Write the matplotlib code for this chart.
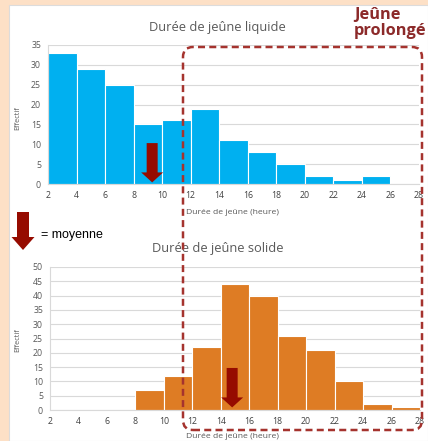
#!/usr/bin/env python3
"""Histogrammes de durée de jeûne liquide / solide avec zone de jeûne prolongé."""

import matplotlib

matplotlib.use("Agg")

import matplotlib.pyplot as plt
import numpy as np
from matplotlib.patches import FancyBboxPatch, Polygon, Rectangle
from matplotlib.transforms import IdentityTransform

# bornes des classes (heures) et effectifs
BIN_EDGES = [2, 4, 6, 8, 10, 12, 14, 16, 18, 20, 22, 24, 26, 28]
LIQUIDE_COUNTS = [33, 29, 25, 15, 16, 19, 11, 8, 5, 2, 1, 2, 0]
SOLIDE_COUNTS = [0, 0, 0, 7, 12, 22, 44, 40, 26, 21, 10, 2, 1]
LIQUIDE_MEAN = 9.3
SOLIDE_MEAN = 14.8

W, H = 428, 441
BLUE = "#00b0f0"
ORANGE = "#de7c24"
ARROW_RED = "#960b00"
DASH_RED = "#a5332e"
GRID = "#d9d9d9"
FONT = "Open Sans"


def fx(px):
    return px / W


def fy(py):
    return 1 - py / H


def arrow(fig, x, y_top, y_tip, shaft_w=11, head_w=22, head_len=10):
    # coordonnées en pixels écran (origine en bas à gauche)
    pts = [
        (x - shaft_w / 2, y_top),
        (x + shaft_w / 2, y_top),
        (x + shaft_w / 2, y_tip + head_len),
        (x + head_w / 2, y_tip + head_len),
        (x, y_tip),
        (x - head_w / 2, y_tip + head_len),
        (x - shaft_w / 2, y_tip + head_len),
    ]
    fig.patches.append(Polygon(pts, closed=True, facecolor=ARROW_RED, edgecolor="none",
                               transform=IdentityTransform(), zorder=5))


def draw_hist(ax, counts, color, ymax):
    edges = np.array(BIN_EDGES)
    ax.bar(edges[:-1], counts, width=2, align="edge", color=color,
           edgecolor="white", linewidth=0.8, zorder=2)
    ax.set_xlim(BIN_EDGES[0], BIN_EDGES[-1])
    ax.set_ylim(0, ymax)
    ax.set_xticks(BIN_EDGES)
    ax.set_yticks(np.arange(0, ymax + 1, 5))
    ax.tick_params(axis="x", length=0, labelsize=6.3, labelcolor="#404040", pad=5)
    ax.tick_params(axis="y", length=0, labelsize=6.3, labelcolor="#595959", pad=5)
    for lab in ax.get_xticklabels() + ax.get_yticklabels():
        lab.set_fontfamily(FONT)
    ax.grid(axis="y", color=GRID, linewidth=0.8, zorder=0)
    ax.set_axisbelow(True)
    for side in ["top", "right"]:
        ax.spines[side].set_visible(False)
    for side in ["left", "bottom"]:
        ax.spines[side].set_color(GRID)
        ax.spines[side].set_linewidth(0.8)


fig = plt.figure(figsize=(W / 100, H / 100), dpi=100, facecolor="#fde0c6")
fig.patches.append(Rectangle((fx(9), 0), fx(W - 9), 1 - 5 / H, transform=fig.transFigure,
                             facecolor="white", edgecolor="#dcdcdc", linewidth=0.8, zorder=-5))

ax_top = fig.add_axes([fx(48), fy(184), fx(419 - 48), (184 - 45) / H])
draw_hist(ax_top, LIQUIDE_COUNTS, BLUE, 35)
ax_bot = fig.add_axes([fx(50), fy(410), fx(420 - 50), (410 - 267) / H])
draw_hist(ax_bot, SOLIDE_COUNTS, ORANGE, 50)

# titres et libellés
fig.text(fx(217), fy(27), "Durée de jeûne liquide", ha="center", va="center",
         fontsize=9.3, color="#595959", family=FONT)
fig.text(fx(218), fy(249), "Durée de jeûne solide", ha="center", va="center",
         fontsize=9.3, color="#595959", family=FONT)
for yy in (118, 340):
    fig.text(fx(18), fy(yy), "Effectif", rotation=90, ha="center", va="center",
             fontsize=5.3, color="#595959", family=FONT)
for yy in (213, 436):
    fig.text(fx(232), fy(yy), "Durée de jeûne (heure)", ha="center", va="center",
             fontsize=6.1, color="#595959", family=FONT)

# flèches de moyenne
for ax, mean, top, tip in [(ax_top, LIQUIDE_MEAN, 10.3, 0.4), (ax_bot, SOLIDE_MEAN, 14.7, 0.9)]:
    x0, y0 = ax.transData.transform((mean, top))
    _, y1 = ax.transData.transform((mean, tip))
    arrow(fig, x0, y0, y1)
arrow(fig, 23, H - 212, H - 250, shaft_w=12, head_w=23, head_len=13)
fig.text(fx(41), fy(235), "= moyenne", ha="left", va="center", fontsize=9,
         color="black", family="Liberation Sans")

# zone jeûne prolongé
fig.patches.append(FancyBboxPatch((183, H - 430), 422 - 183, 430 - 47,
                                  boxstyle="round,pad=0,rounding_size=10",
                                  transform=IdentityTransform(), facecolor="none",
                                  edgecolor=DASH_RED, linewidth=1.8,
                                  linestyle=(0, (2.8, 1.7)), zorder=6))
fig.text(fx(354), fy(7), "Jeûne\nprolongé", ha="left", va="top", fontsize=11.8,
         fontweight="bold", color="#8c2a2a", family=FONT, linespacing=1.0)

fig.savefig("out.png", dpi=100, facecolor=fig.get_facecolor())
